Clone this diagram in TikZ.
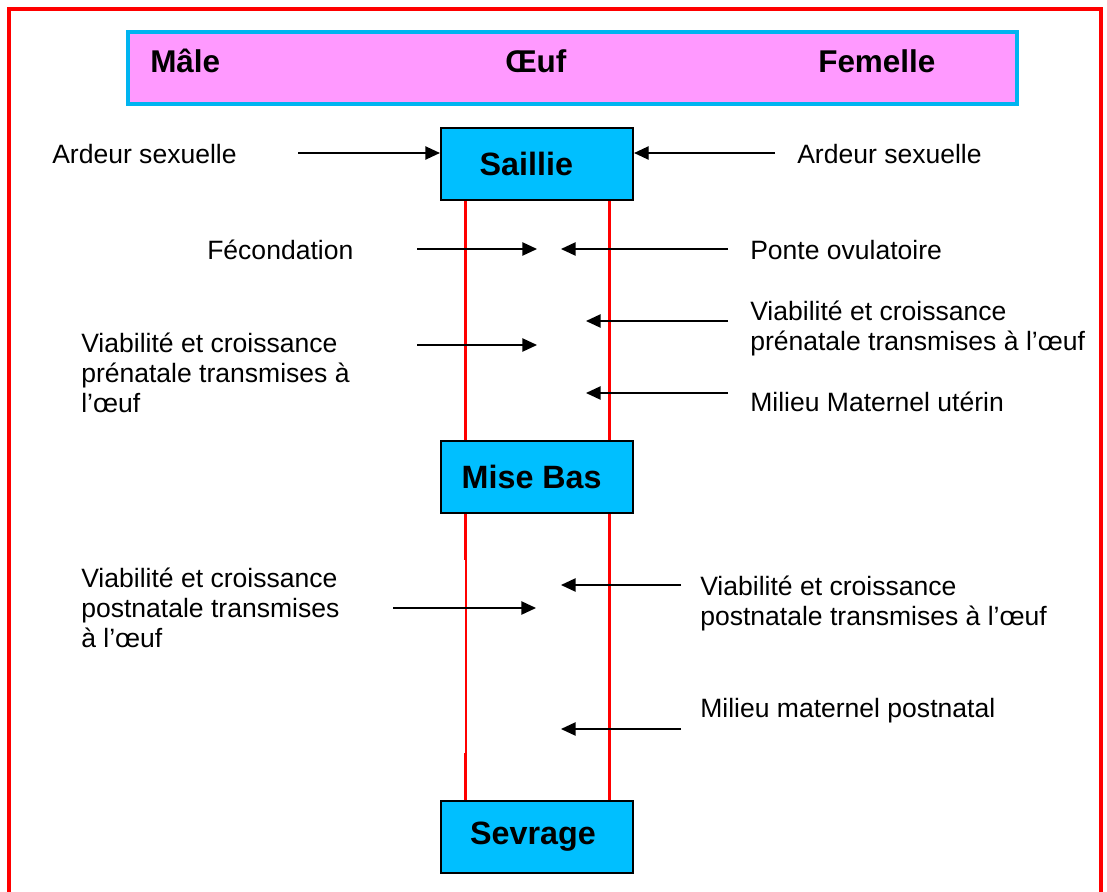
\documentclass[tikz,border=0pt]{standalone}
\usepackage{fontspec}
\setmainfont{Liberation Sans}
\usetikzlibrary{calc,arrows.meta}
\definecolor{rose}{HTML}{FF99FF}
\definecolor{ciel}{HTML}{00B4F0}
\definecolor{bleu}{HTML}{00BFFF}

\begin{document}
\begin{tikzpicture}[
    x=0.75pt, y=-0.75pt,
    etape/.style={
        draw=black,
        fill=bleu,           % the three stages
        line width=1.6pt,
        minimum width=144pt,
        minimum height=54pt,
        inner sep=0pt,
        font=\fontsize{24.2}{28}\selectfont\bfseries
    },
    txt/.style={anchor=base west, inner sep=0pt, align=left,
        font=\fontsize{19.9}{22.5}\selectfont},
    titre/.style={anchor=base west, inner sep=0pt,
        font=\fontsize{23.6}{27}\selectfont\bfseries},
    fl/.style={line width=1.1pt, -{Triangle[length=11pt,width=10pt]}},
    fil/.style={red, line width=2.2pt}
]
\useasboundingbox (0,0) rectangle (1107,892);
\clip (0,0) rectangle (1107,892);
% frame
\draw[red, line width=2.4pt] (9,9) rectangle (1101,950);

% header
\draw[ciel, fill=rose, line width=2.3pt] (128,32) rectangle (1017,104);
\node[titre] (male) at (150,73) {Mâle};
\node[titre] (oeuf) at (505,73) {Œuf};
\node[titre] (femelle) at (818,73) {Femelle};

% stages
\node[etape] (saillie) at (537,164) {\hspace*{-16pt}Saillie};
\node[etape] (misebas) at (537,477) {\hspace*{-8pt}Mise Bas};
\node[etape] (sevrage) at (537,837) {\hspace*{-6pt}Sevrage};

% red lines
\coordinate (g0) at ($(misebas.south west)+(26,0)$);
\coordinate (g3) at ($(sevrage.north west)+(26,0)$);
\draw[fil] ($(saillie.south west)+(26,0)$) -- ($(misebas.north west)+(26,0)$);
\draw[fil] ($(saillie.south east)+(-25,0)$) -- ($(misebas.north east)+(-25,0)$);
\draw[fil] ($(misebas.south east)+(-25,0)$) -- ($(sevrage.north east)+(-25,0)$);
\draw[fil] (g0) -- (g0 |- 0,560);
\draw[red, line width=1.4pt] (g0 |- 0,560) -- (g0 |- 0,753);
\draw[fil] (g0 |- 0,753) -- (g3);

% left texts (multi-line: anchored on last line)
\node[txt] (ardeurM) at (52,163) {Ardeur sexuelle};
\node[txt] (fecond) at (207,259) {Fécondation};
\node[txt] (viabM) at (81,412) {Viabilité et croissance\\prénatale transmises à\\l’œuf};
\node[txt] (postM) at (81,647) {Viabilité et croissance\\postnatale transmises\\à l’œuf};

% right texts
\node[txt] (ardeurF) at (797,163) {Ardeur sexuelle};
\node[txt] (ponte) at (750,259) {Ponte ovulatoire};
\node[txt] (viabF) at (750,350) {Viabilité et croissance\\prénatale transmises à l’œuf};
\node[txt] (uterin) at (750,411) {Milieu Maternel utérin};
\node[txt] (postF) at (700,625) {Viabilité et croissance\\postnatale transmises à l’œuf};
\node[txt] (postnat) at (700,717) {Milieu maternel postnatal};

% arrow ends
\coordinate (a1) at (298,153);
\coordinate (a2) at (775,153);
\coordinate (b1) at (417,249); \coordinate (b2) at (537,249);
\coordinate (c1) at (728,249); \coordinate (c2) at (561,249);
\coordinate (d1) at (728,321); \coordinate (d2) at (586,321);
\coordinate (e1) at (417,345); \coordinate (e2) at (537,345);
\coordinate (f1) at (728,393); \coordinate (f2) at (586,393);
\coordinate (g1) at (393,608); \coordinate (g2) at (536,608);
\coordinate (h1) at (681,585); \coordinate (h2) at (561,585);
\coordinate (k1) at (681,729); \coordinate (k2) at (561,729);

\draw[fl] (a1) -- (saillie.west |- a1);
\draw[fl] (a2) -- (saillie.east |- a2);
\draw[fl] (b1) -- (b2);
\draw[fl] (c1) -- (c2);
\draw[fl] (d1) -- (d2);
\draw[fl] (e1) -- (e2);
\draw[fl] (f1) -- (f2);
\draw[fl] (g1) -- (g2);
\draw[fl] (h1) -- (h2);
\draw[fl] (k1) -- (k2);
\end{tikzpicture}
\end{document}
